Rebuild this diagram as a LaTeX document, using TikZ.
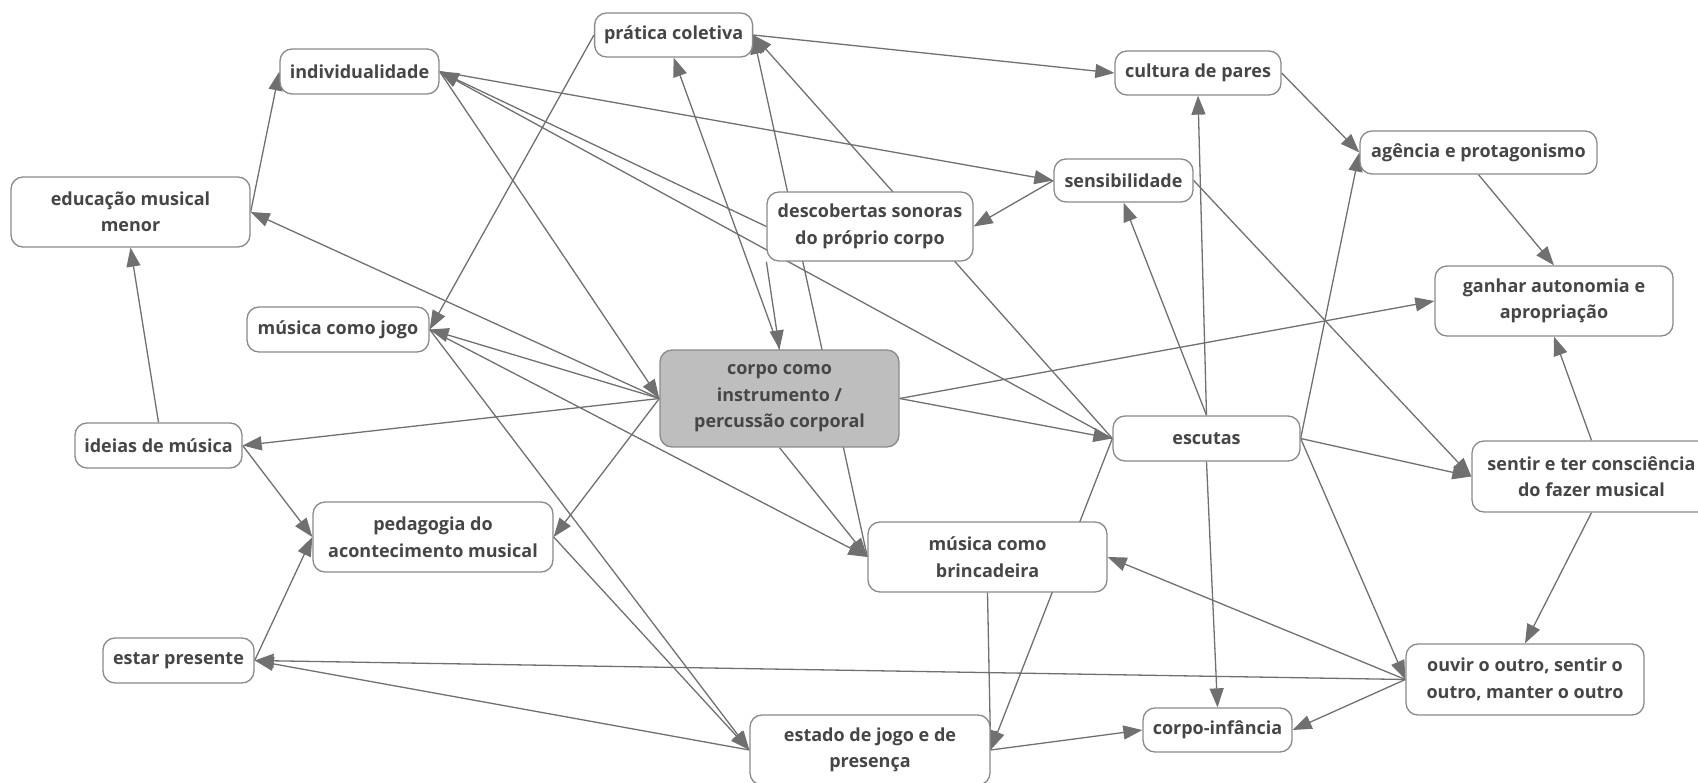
\documentclass[tikz,border=0pt]{standalone}
\usepackage{fontspec}
\setmainfont{Open Sans}
\usetikzlibrary{arrows.meta}
\pgfdeclarelayer{bg}
\pgfsetlayers{bg,main}
\definecolor{edgec}{HTML}{707070}
\definecolor{boxc}{HTML}{8A8A8A}
\definecolor{txtc}{HTML}{464646}
\definecolor{hlc}{HTML}{BEBEBE}
\newcommand{\bx}[7][white]{\node[box, fill=#1, minimum width=#5pt, minimum height=#6pt] (#2) at (#3,#4) {#7};}
\begin{document}
\begin{tikzpicture}[x=1pt,y=-1pt,
  box/.style={draw=boxc, line width=1.3pt, rounded corners=12pt, text=txtc,
    font=\fontsize{18}{26.5}\selectfont\bfseries, align=center, inner sep=0pt},
  arr/.style={draw=edgec, line width=1.3pt, -{Triangle[length=19pt,width=14pt]}}]
\useasboundingbox (0,0) rectangle (1698,783);
\clip (0,0) rectangle (1698,783);
\bx{prat}{673.6}{35}{158}{44}{prática coletiva}
\bx{indiv}{359.5}{71.5}{159}{45}{individualidade}
\bx{cult}{1198}{73}{166}{44}{cultura de pares}
\bx{agen}{1478.5}{152.5}{237}{43}{agência e protagonismo}
\bx{sens}{1123.5}{180.5}{139}{43}{sensibilidade}
\bx{edu}{130.5}{212}{239}{70}{educação musical\\menor}
\bx{desc}{870}{226.5}{206}{69}{descobertas sonoras\\do próprio corpo}
\bx{ganhar}{1554}{301}{238}{70}{ganhar autonomia e\\apropriação}
\bx{jogo}{338}{329.5}{182}{45}{música como jogo}
\bx[hlc]{corpo}{779.5}{398.5}{239}{97}{corpo como\\instrumento /\\percussão corporal}
\bx{ideias}{158.5}{445.5}{167}{45}{ideias de música}
\bx{escutas}{1206.5}{438.5}{187}{45}{escutas}
\bx{sentir}{1591.5}{476.5}{239}{71}{sentir e ter consciência\\do fazer musical}
\bx{pedag}{433}{537}{240}{70}{pedagogia do\\acontecimento musical}
\bx{brinc}{987.5}{557}{239}{70}{música como\\brincadeira}
\bx{estar}{178.5}{660.5}{151}{45}{estar presente}
\bx{ouvir}{1525}{679.5}{238}{71}{ouvir o outro, sentir o\\outro, manter o outro}
\bx{cinf}{1217.5}{730}{149}{44}{corpo-infância}
\bx{estado}{870}{750}{240}{70}{estado de jogo e de\\presença}
\begin{pgfonlayer}{bg}
\draw[arr] (edu.east) -- (indiv.west);
\draw[arr] (ideias.north) -- (edu.south);
\draw[arr] (corpo.west) -- (edu.east);
\draw[arr] (corpo.west) -- (ideias.east);
\draw[arr] (ideias.east) -- (pedag.west);
\draw[arr] (estar.east) -- (pedag.west);
\draw[arr] (corpo.west) -- (pedag.east);
\draw[arr] (corpo.west) -- (jogo.east);
\draw[arr] (prat.west) -- (jogo.east);
\draw[arr] (indiv.east) -- (corpo.west);
\draw[arr] (desc.west) -- (indiv.east);
\draw[arr] (escutas.west) -- (indiv.east);
\draw[arr] (indiv.east) -- (sens.west);
\draw[arr] (prat.east) -- (cult.west);
\draw[arr] (corpo.north) -- (prat.south);
\draw[arr] (desc.south west) -- (corpo.north);
\draw[arr] (brinc.west) -- (prat.east);
\draw[arr] (escutas.west) -- (prat.east);
\draw[arr] (sens.west) -- (desc.east);
\draw[arr] (sens.east) -- (sentir.west);
\draw[arr] (escutas.north) -- (sens.south);
\draw[arr] (escutas.north) -- (cult.south);
\draw[arr] (escutas.east) -- (agen.west);
\draw[arr] (cult.east) -- (agen.west);
\draw[arr] (agen.south) -- (ganhar.north);
\draw[arr] (corpo.east) -- (ganhar.west);
\draw[arr] (sentir.north) -- (ganhar.south);
\draw[arr] (corpo.east) -- (escutas.west);
\draw[arr] (escutas.east) -- (sentir.west);
\draw[arr] (sentir.south) -- (ouvir.north);
\draw[arr] (escutas.east) -- (ouvir.west);
\draw[arr] (ouvir.west) -- (brinc.east);
\draw[arr] (ouvir.west) -- (estar.east);
\draw[arr] (ouvir.west) -- (cinf.east);
\draw[arr] (escutas.south) -- (cinf.north);
\draw[arr] (estado.east) -- (cinf.west);
\draw[arr] (escutas.west) -- (estado.east);
\draw[arr] (brinc.south) -- (estado.east);
\draw[arr] (jogo.east) -- (estado.west);
\draw[arr] (pedag.east) -- (estado.west);
\draw[arr] (estado.west) -- (estar.east);
\draw[arr] (corpo.south) -- (brinc.west);
\draw[arr] (jogo.east) -- (brinc.west);
\end{pgfonlayer}
\end{tikzpicture}
\end{document}
